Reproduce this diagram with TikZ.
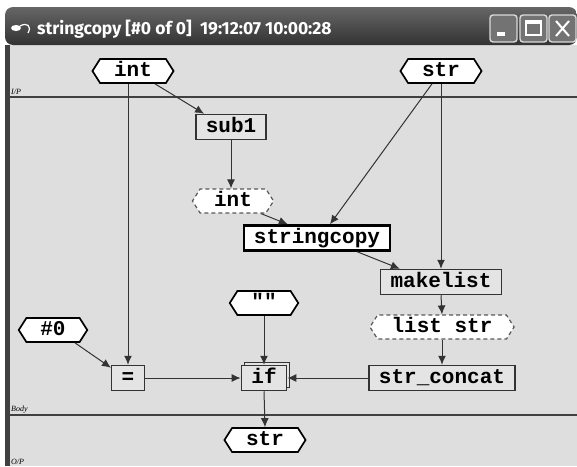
\documentclass[tikz,border=0pt]{standalone}
\usepackage{fontspec}
\setmonofont{Liberation Mono}
\newfontfamily\titlefont{Fira Sans}
\newfontfamily\tagfont{Liberation Serif}
\usetikzlibrary{shapes.symbols,shadows,arrows.meta}
\tikzset{>={Latex[length=9pt,width=8pt]}}
\definecolor{canvas}{HTML}{DEDEDE}
\definecolor{boxfill}{HTML}{E4E4E4}
\definecolor{wire}{HTML}{333333}
\tikzset{
  port/.style={signal, signal to=east and west, signal pointer angle=115,
    draw=black, line width=1.7pt, fill=white, inner xsep=14pt, inner ysep=3pt,
    font=\ttfamily\bfseries\fontsize{21}{21}\selectfont,
    text height=14pt, text depth=4pt},
  tmpport/.style={port, draw=gray!70!black, line width=1.2pt,
    dash pattern=on 4pt off 3pt},
  fbox/.style={rectangle, draw=wire, line width=1.5pt, fill=boxfill,
    inner xsep=10pt, inner ysep=3.5pt,
    font=\ttfamily\bfseries\fontsize{21}{21}\selectfont,
    text height=14pt, text depth=4pt},
  mainbox/.style={fbox, draw=black, line width=2.4pt, fill=white},
  wireto/.style={->, draw=wire, line width=1pt},
  tag/.style={font=\tagfont\fontsize{8}{8}\selectfont\itshape, anchor=south west, inner sep=1pt}
}

\begin{document}
\begin{tikzpicture}[x=1pt,y=-1pt]
  \useasboundingbox (0,0) rectangle (577,466);
  % window
  \fill[canvas] (10,45) rectangle (577,466);
  \fill[black!75] (5,45) rectangle (10,466);
  \shade[top color=black!60, bottom color=black!80, rounded corners=8pt]
    (5,45) -- (5,7) -- (577,7) -- (577,45) -- cycle;
  \fill[white] (16,28) ellipse (5pt and 3pt);
  \draw[white, line width=1.2pt] (20,26) .. controls (27,22) and (32,26) .. (28,33);
  \node[text=white, font=\titlefont\fontsize{17.5}{17.5}\selectfont\bfseries,
    anchor=west, inner sep=0pt] (title) at (37,29) {stringcopy [\#0 of 0]\ \ 19:12:07 10:00:28};
  % buttons
  \foreach \bx in {490,520,549}{
    \draw[white!85!black, line width=1.4pt, fill=black!55, rounded corners=3pt]
      (\bx,15) rectangle (\bx+27,42);
  }
  \fill[white] (497,32) rectangle (505,36);
  \draw[white, line width=1.4pt] (526,21) rectangle (541,35);
  \fill[white] (526,21) rectangle (541,24);
  \draw[white, line width=2pt] (556,21) -- (569,36) (569,21) -- (556,36);

  % sections
  \draw[black!75, line width=1.5pt] (10,97) -- (577,97);
  \draw[black!75, line width=1.5pt] (10,415) -- (577,415);
  \node[tag] (iptag) at (10,96) {I/P};
  \node[tag] (bodytag) at (10,414) {Body};
  \node[tag] (optag) at (10,466) {O/P};

  % nodes
  \node[port] (intin) at (133,71) {int};
  \node[port] (strin) at (441,71) {str};
  \node[fbox] (sub1) at (231,127) {sub1};
  \node[tmpport] (intmid) at (233,201) {int};
  \node[mainbox] (strcp) at (317,238) {stringcopy};
  \node[fbox] (mklist) at (441,282) {makelist};
  \node[port] (empty) at (264,303) {""};
  \node[port] (zero) at (53,330) {\#0};
  \node[tmpport] (liststr) at (442,327) {list str};
  \node[fbox] (eq) at (128,378) {=};
  \node[fbox, copy shadow={shadow xshift=3pt, shadow yshift=3pt}] (ifn) at (264,378) {if};
  \node[fbox] (concat) at (442,378) {str\_concat};
  \node[port] (strout) at (265,440) {str};

  % wires
  \draw[wireto] (intin.south -| eq.north) -- (eq.north);
  \draw[wireto] ([xshift=22pt]intin.south) -- ([xshift=9pt]sub1.north west);
  \draw[wireto] ([xshift=-9pt]strin.south) -- ([xshift=13pt]strcp.north);
  \draw[wireto] (strin.south) -- (mklist.north);
  \draw[wireto] (sub1.south) -- (sub1.south |- intmid.north);
  \draw[wireto] ([xshift=28pt]intmid.south) -- ([xshift=45pt]strcp.north west);
  \draw[wireto] ([xshift=40pt]strcp.south) -- ([xshift=20pt]mklist.north west);
  \draw[wireto] (mklist.south) -- (liststr.north);
  \draw[wireto] (liststr.south) -- (concat.north);
  \draw[wireto] (concat.west) -- (ifn.east);
  \draw[wireto] (eq.east) -- (ifn.west);
  \draw[wireto] ([xshift=22pt]zero.south) -- ([yshift=-3pt]eq.north west);
  \draw[wireto] (empty.south) -- (ifn.north);
  \draw[wireto] (ifn.south) -- (strout.north);
\end{tikzpicture}
\end{document}
